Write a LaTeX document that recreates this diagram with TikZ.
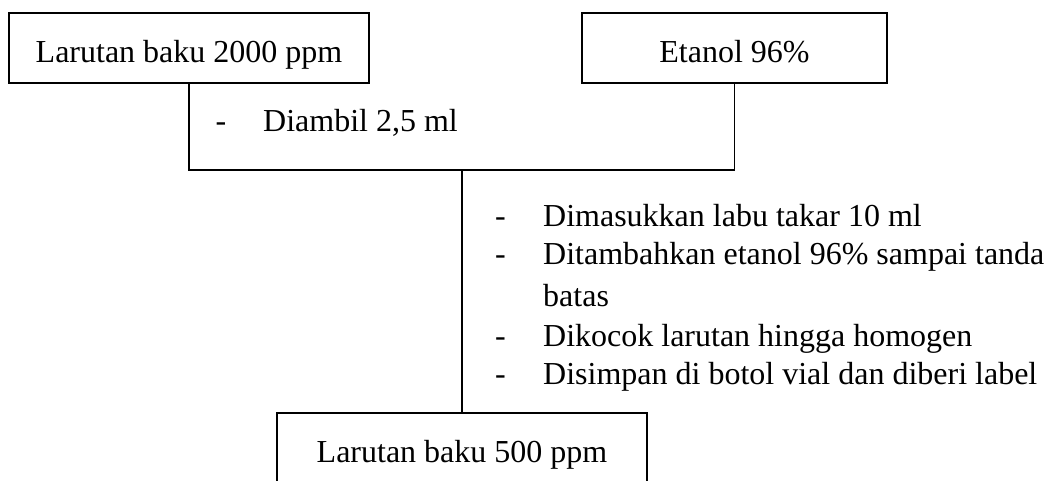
\documentclass[tikz,border=0pt]{standalone}
\usepackage{fontspec}
\setmainfont{Liberation Serif}
\begin{document}
\begin{tikzpicture}[x=1pt,y=-1pt,
  box/.style={draw=black,line width=2.2pt,minimum height=70pt,inner sep=0pt,
    text height=28pt,text depth=0pt,font=\fontsize{32}{38}\selectfont},
  conn/.style={draw=black,line width=1.1pt},
  txt/.style={inner sep=0pt,anchor=base west,font=\fontsize{32}{38}\selectfont}]
\useasboundingbox (0,0) rectangle (1053,480);
\clip (0,0) rectangle (1053,480);
\node[box,minimum width=360pt] (b1) at (189,48) {Larutan baku 2000 ppm};
\node[box,minimum width=305pt] (b2) at (734.5,48) {Etanol 96\%};
\node[box,minimum width=370pt] (b3) at (462,448) {Larutan baku 500 ppm};
\coordinate (j) at (462,170);
\draw[conn] (b1.south) |- (j) -| (b2.south);
\draw[conn] (j) -- (b3.north);
\node[txt] (t0) at (215.5,131) {\makebox[47.5pt][l]{-}Diambil 2,5 ml};
\node[txt] (t1) at (495,226) {\makebox[48pt][l]{-}Dimasukkan labu takar 10 ml};
\node[txt] (t2) at (495,264) {\makebox[48pt][l]{-}Ditambahkan etanol 96\% sampai tanda};
\node[txt] (t3) at (543,306) {batas};
\node[txt] (t4) at (495,346) {\makebox[48pt][l]{-}Dikocok larutan hingga homogen};
\node[txt] (t5) at (495,384) {\makebox[48pt][l]{-}Disimpan di botol vial dan diberi label};
\end{tikzpicture}
\end{document}
